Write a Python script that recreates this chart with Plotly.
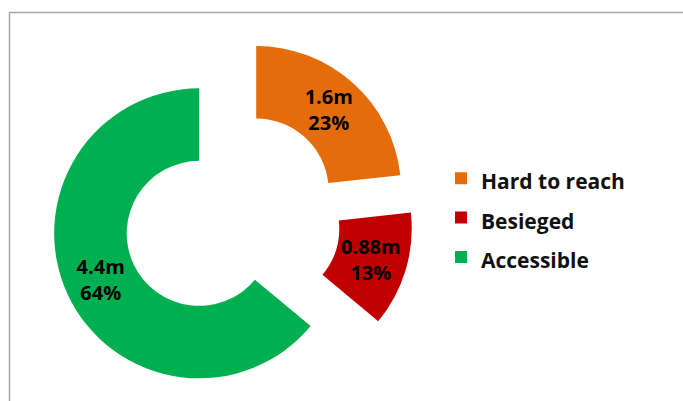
import plotly.graph_objects as go

categories = ["Hard to reach", "Besieged", "Accessible"]
values = [1.6, 0.88, 4.4]
value_labels = ["1.6m", "0.88m", "4.4m"]
pct_labels = ["23%", "13%", "64%"]
colors = ["#E46C0A", "#C00000", "#00B050"]

texts = [f"{v}<br>{p}" for v, p in zip(value_labels, pct_labels)]
legend_labels = [f'<span style="font-size:21px">{c}</span>' for c in categories]

fig = go.Figure(go.Pie(
    labels=legend_labels,
    values=values,
    text=texts,
    textinfo="text",
    textposition="inside",
    insidetextorientation="horizontal",
    textfont=dict(family="Open Sans", size=20, color="black", weight="bold"),
    marker=dict(colors=colors, line=dict(width=0)),
    hole=0.5,
    pull=[0.25, 0.25, 0.25],
    sort=False,
    direction="clockwise",
    rotation=0,
    domain=dict(x=[0.0743, 0.6051], y=[0.0044, 0.9084]),
    hoverinfo="none",
))

fig.update_layout(
    width=683, height=401,
    margin=dict(l=0, r=0, t=0, b=0),
    paper_bgcolor="white",
    plot_bgcolor="white",
    uniformtext=dict(minsize=20, mode="show"),
    showlegend=True,
    legend=dict(
        x=441 / 683, xanchor="left",
        y=1 - 218 / 401, yanchor="middle",
        font=dict(family="Open Sans", size=28, color="#111111", weight="bold"),
        bgcolor="rgba(0,0,0,0)",
    ),
    shapes=[dict(
        type="rect", xref="paper", yref="paper",
        x0=9.5 / 683, x1=1.05, y0=-0.05, y1=1 - 12.5 / 401,
        line=dict(color="#A6A6A6", width=1.5),
        fillcolor="rgba(0,0,0,0)", layer="below",
    )],
)

fig.write_html("out.html")
